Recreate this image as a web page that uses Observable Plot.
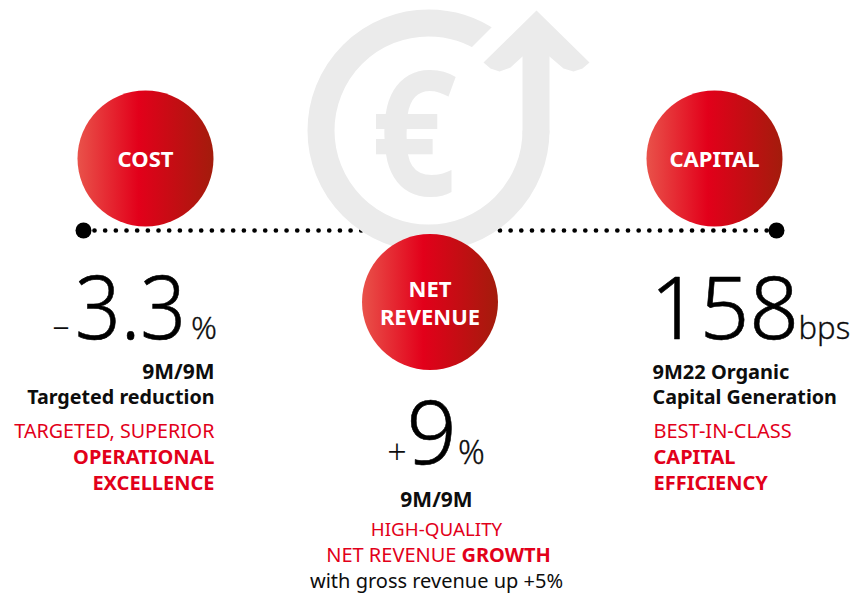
<!DOCTYPE html>
<html><head><meta charset="utf-8">
<style>html,body{margin:0;padding:0;background:#fff}svg{display:block}</style>
<script src="https://cdn.jsdelivr.net/npm/d3@7"></script>
<script src="https://cdn.jsdelivr.net/npm/@observablehq/plot@0.6"></script>
</head><body><script>
const categories = ["COST", "NET\nREVENUE", "CAPITAL"];
const headlines = ["3.3", "9", "158"];
const signs = ["–", "+"];
const units = ["%", "%", "bps"];
const costNotes = ["9M/9M", "Targeted reduction"];
const costClaims = ["TARGETED, SUPERIOR"];
const costClaimsBold = ["OPERATIONAL", "EXCELLENCE"];
const capitalNotes = ["9M22 Organic", "Capital Generation"];
const capitalClaims = ["BEST-IN-CLASS"];
const capitalClaimsBold = ["CAPITAL", "EFFICIENCY"];
const revenueNote = "9M/9M";
const revenueClaims = ["HIGH-QUALITY", "NET REVENUE"];
const revenueClaimBold = "GROWTH";
const revenueFootnote = "with gross revenue up +5%";
const currency = "€";

const RED = "#e2001a", INK = "#0d0d0d", GREY = "#ebebeb";
const FONT = "Noto Sans";

const bubbles = [[145,158],[429.5,301.5],[714,158]].map(([x,y],i)=>({x,y,label:categories[i]}));
const t = (text,x,y,size,anchor,fill,weight,extra={}) =>
  Plot.text([text],{x:()=>x,y:()=>y-1.5,text:d=>d,fontSize:size,textAnchor:anchor,fill,fontWeight:weight,lineAnchor:"bottom",fontFamily:FONT,...extra});
const big = {stroke:"#000",strokeWidth:0.6};

const defs = () => {
  const ns="http://www.w3.org/2000/svg";
  const d=document.createElementNS(ns,"defs");
  d.innerHTML=`<linearGradient id="ball" x1="0" x2="1" y1="0" y2="0">
   <stop offset="0" stop-color="#e9524a"/><stop offset="0.45" stop-color="#e2001a"/><stop offset="1" stop-color="#a31c0c"/></linearGradient>`;
  return d;
};

const chart = Plot.plot({
  width:853,height:593,margin:0,
  x:{domain:[0,853],range:[0,853],axis:null},
  y:{domain:[0,593],range:[0,593],axis:null},
  style:{background:"#fff"},
  marks:[
    defs,
    Plot.line([[94,230],[775,230]],{x:d=>d[0],y:d=>d[1],stroke:"#000",strokeWidth:4.7,strokeLinecap:"round",strokeDasharray:"0 10.67"}),
    Plot.dot([[83,230],[776,230]],{x:d=>d[0],y:d=>d[1],r:8,fill:"#000"}),
    Plot.dot([[428,130]],{x:d=>d[0],y:d=>d[1],r:107.5,fill:"none",stroke:GREY,strokeWidth:27,strokeDasharray:"572 700"}),
    Plot.line([[462,56],[505,13],[560,40],[500,90],[462,56]],{x:d=>d[0],y:d=>d[1],fill:"#fff",stroke:"none"}),
    Plot.line([[535.5,40],[535.5,131]],{x:d=>d[0],y:d=>d[1],stroke:GREY,strokeWidth:27}),
    Plot.line([[536,10],[589,62],[582,68],[573,71],[563,68],[549,56],[522,56],[510,67],[499,71],[490,68],[483,62],[536,10]],{x:d=>d[0],y:d=>d[1],fill:GREY,stroke:"none"}),
    t(currency,413.5,196,174,"middle",GREY,700),
    Plot.dot(bubbles,{x:"x",y:"y",r:68,fill:"url(#ball)"}),
    Plot.text(bubbles,{x:"x",y:"y",text:"label",fill:"#fff",fontSize:22,fontWeight:700,fontFamily:FONT,lineHeight:1.27}),
    t(signs[0],60.5,339,34,"middle",INK,300),
    t(headlines[0],130,340,88,"middle","#000",300,big),
    t(units[0],203.5,340,32,"middle",INK,300,{stroke:INK,strokeWidth:0.3}),
    t(costNotes[0],214,380,21,"end",INK,700),
    t(costNotes[1],214,405,19.7,"end",INK,700),
    t(costClaims[0],214,439,19.7,"end",RED,400),
    t(costClaimsBold[0],214,465,20,"end",RED,700),
    t(costClaimsBold[1],214,491,20,"end",RED,700),
    t(signs[1],396.5,465,34,"middle",INK,300),
    t(headlines[1],431,465,88,"middle","#000",300,big),
    t(units[1],471,465,33,"middle",INK,300,{stroke:INK,strokeWidth:0.3}),
    t(revenueNote,436,508,21,"middle",INK,700),
    t(revenueClaims[0],436,537,18.8,"middle",RED,400),
    t(revenueClaims[1],456,563,20,"end",RED,400),
    t(revenueClaimBold,461,563,20,"start",RED,700),
    t(revenueFootnote,436,589,20,"middle",INK,400),
    t(headlines[2],724,340,87,"middle","#000",300,big),
    t(units[2],798,340,31,"start",INK,300,{stroke:INK,strokeWidth:0.3}),
    t(capitalNotes[0],652,380,20,"start",INK,700),
    t(capitalNotes[1],652,405,19.7,"start",INK,700),
    t(capitalClaims[0],653,439,20,"start",RED,400),
    t(capitalClaimsBold[0],653,465,20,"start",RED,700),
    t(capitalClaimsBold[1],653,491,20,"start",RED,700)
  ]
});
document.body.append(chart);
// narrower glyphs than the installed font: squeeze about the text anchor
const squeeze = new Map([[currency,0.86],[headlines[0],0.91]]);
chart.querySelectorAll("text").forEach(el=>{
  const k = squeeze.get(el.textContent);
  if(k) el.setAttribute("transform",(el.getAttribute("transform")||"")+` scale(${k},1)`);
});
</script></body></html>
